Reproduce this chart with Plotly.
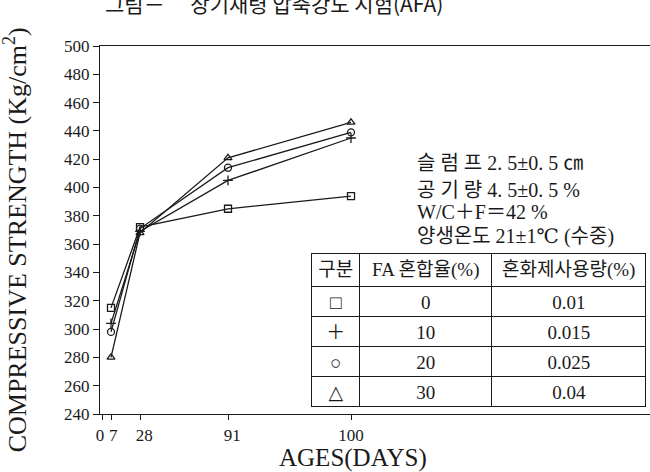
import plotly.graph_objects as go
import numpy as np

# ---- data ----
ages = [7, 28, 91, 100]
series_names = ["FA 0%", "FA 10%", "FA 20%", "FA 30%"]
strength_fa0 = [315, 372, 385, 394]
strength_fa10 = [304, 369, 405, 435]
strength_fa20 = [298, 371, 414, 439]
strength_fa30 = [280, 368, 421, 446]
symbols = ["square-open", "cross-thin-open", "circle-open", "triangle-up-open"]

# non-linear age axis of the original drawing (tick age -> axis position)
tick_ages = [0, 7, 28, 91, 100]
tick_axis_pos = [2, 11, 40, 128, 251]
tick_text = ["0\u00a0", "\u00a07", "\u00a0\u00a028", "\u00a0\u00a091", "100"]
y_ticks = list(range(240, 501, 20))

table_header = ["구분", "FA 혼합율(%)", "혼화제사용량(%)"]
table_symbol = ["□", "＋", "○", "△"]
table_fa = ["0", "10", "20", "30"]
table_admix = ["0.01", "0.015", "0.025", "0.04"]

notes = ["슬 럼 프 2. 5±0. 5 ㎝", "공 기 량 4. 5±0. 5 %", "W/C＋F＝42 %", "양생온도 21±1℃ (수중)"]

SERIF = "Liberation Serif, DejaVu Serif, Noto Sans CJK KR, serif"
INK = "#1a1a1a"

def age_to_axis(a):
    return list(np.interp(a, tick_ages, tick_axis_pos))

fig = go.Figure()
for name, vals, sym in zip(series_names,
                           [strength_fa0, strength_fa10, strength_fa20, strength_fa30],
                           symbols):
    fig.add_trace(go.Scatter(
        x=age_to_axis(ages), y=vals, mode="lines+markers", name=name,
        line=dict(color=INK, width=1.3),
        marker=dict(symbol=sym, size=7, color=INK, line=dict(color=INK, width=1.3)),
        showlegend=False, cliponaxis=False))

fig.add_trace(go.Table(
    domain=dict(x=[0.385, 0.993], y=[0.016, 0.435]),
    columnwidth=[48, 132, 154],
    header=dict(values=table_header, height=33, align="center",
                fill_color="white", line=dict(color=INK, width=1),
                font=dict(family=SERIF, size=19, color=INK)),
    cells=dict(values=[table_symbol, table_fa, table_admix], height=30, align="center",
               fill_color="white", line=dict(color=INK, width=1),
               font=dict(family=SERIF, size=19, color=INK)),
))

annotations = []
note_y = [0.682, 0.609, 0.549, 0.481]
for txt, yy in zip(notes, note_y):
    annotations.append(dict(text=txt, x=0.573, y=yy, xref="paper", yref="paper",
                            xanchor="left", yanchor="middle", showarrow=False,
                            font=dict(family=SERIF, size=20, color=INK)))
annotations.append(dict(text="그림－　 장기재령 압축강도 시험(AFA)", x=0.005, y=1.118,
                        xref="paper", yref="paper", xanchor="left", yanchor="middle",
                        showarrow=False,
                        font=dict(family="Noto Sans CJK KR, sans-serif", size=21, color=INK)))
annotations.append(dict(text="COMPRESSIVE STRENGTH (Kg/cm<sup>2</sup>)", x=-0.152, y=0.473,
                        xref="paper", yref="paper", xanchor="center", yanchor="middle",
                        textangle=-90, showarrow=False,
                        font=dict(family=SERIF, size=26, color=INK)))
annotations.append(dict(text="AGES(DAYS)", x=0.46, y=-0.119,
                        xref="paper", yref="paper", xanchor="center", yanchor="middle",
                        showarrow=False,
                        font=dict(family=SERIF, size=25, color=INK)))

fig.update_layout(
    width=650, height=472,
    margin=dict(l=100, r=0, t=46, b=58),
    paper_bgcolor="white", plot_bgcolor="white",
    annotations=annotations,
    xaxis=dict(range=[0, 550], tickvals=tick_axis_pos, ticktext=tick_text, tickangle=0,
               showgrid=False, zeroline=False, showline=True, linecolor=INK, linewidth=1.3,
               mirror=True, ticks="outside", ticklen=5, tickcolor=INK,
               tickfont=dict(family=SERIF, size=17, color=INK)),
    yaxis=dict(range=[240, 500], tickvals=y_ticks, showgrid=False, zeroline=False,
               showline=True, linecolor=INK, linewidth=1.3,
               ticks="outside", ticklen=6, tickcolor=INK,
               tickfont=dict(family=SERIF, size=17, color=INK)),
)

fig.write_html("out.html")
